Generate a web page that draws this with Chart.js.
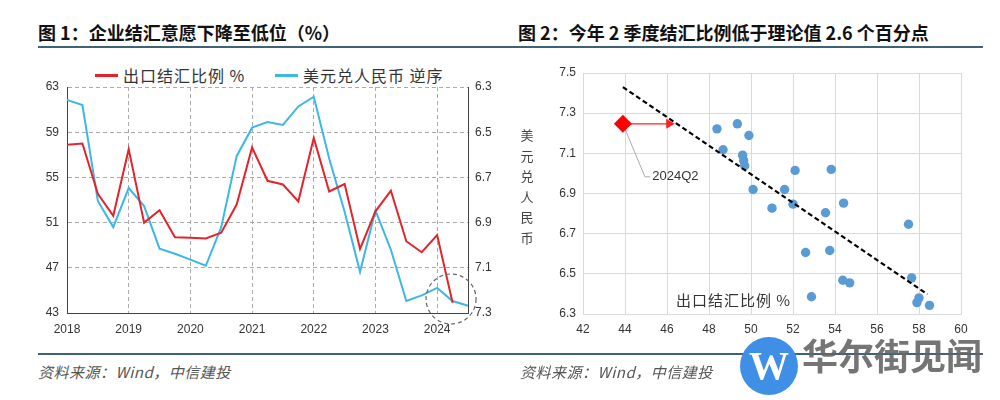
<!DOCTYPE html>
<html>
<head>
<meta charset="utf-8">
<script src="https://cdn.jsdelivr.net/npm/chart.js@4"></script>
<style>
  body { margin: 0; background: #fff; }
  #page { position: relative; width: 1000px; height: 400px; overflow: hidden; font-family: "Noto Sans CJK SC", sans-serif; }
  .abs { position: absolute; white-space: nowrap; }
  .title { font-size: 18px; font-weight: bold; color: #111; top: 20px; line-height: 24px; }
  .rule { height: 2px; background: #3e6276; }
  .foot { font-size: 15px; font-style: italic; color: #555; top: 361px; line-height: 22px; letter-spacing: 0.5px; }
  .leg { font-size: 16px; color: #333; top: 63px; line-height: 24px; letter-spacing: 1px; }
  .legline { height: 3px; top: 74px; width: 23px; }
  canvas { position: absolute; top: 0; }
</style>
</head>
<body>
<div id="page">
  <div class="abs title" style="left:38px">图 1：企业结汇意愿下降至低位（%）</div>
  <div class="abs title" style="left:518px">图 2：今年 2 季度结汇比例低于理论值 2.6 个百分点</div>
  <div class="abs rule" style="left:38px; top:46px; width:945px"></div>
  <div class="abs rule" style="left:38px; top:353px; width:945px"></div>

  <div class="abs legline" style="left:95px; background:#e3242b"></div>
  <div class="abs leg" style="left:123px">出口结汇比例 %</div>
  <div class="abs legline" style="left:275px; background:#3db7e4"></div>
  <div class="abs leg" style="left:303px">美元兑人民币 逆序</div>

  <canvas id="lineChart" width="500" height="345" style="left:0"></canvas>
  <canvas id="scatterChart" width="500" height="345" style="left:500px"></canvas>

  <div class="abs" style="left:518px; top:125px; width:18px; font-size:13px; line-height:20.5px; color:#444; white-space:normal; text-align:center">美<br>元<br>兑<br>人<br>民<br>币</div>
  <div class="abs" style="left:676px; top:289px; font-size:15px; color:#333; letter-spacing:1px; line-height:22px">出口结汇比例 %</div>

  <div class="abs foot" style="left:38px">资料来源：Wind，中信建投</div>
  <div class="abs foot" style="left:520px">资料来源：Wind，中信建投</div>

  <div class="abs" style="left:740px; top:337px; width:58px; height:58px; border-radius:50%; background:#3f8fe6; color:#fff; font:bold 40px 'Liberation Serif', serif; text-align:center; line-height:58px">W</div>
  <div class="abs" style="left:802px; top:334px; font-size:36px; font-weight:bold; color:#666; line-height:40px; opacity:0.9">华尔街见闻</div>
</div>

<script>
// quarterly data, 2018Q1 .. 2024Q3
const quarters = [
  '2018Q1','2018Q2','2018Q3','2018Q4','2019Q1','2019Q2','2019Q3','2019Q4',
  '2020Q1','2020Q2','2020Q3','2020Q4','2021Q1','2021Q2','2021Q3','2021Q4',
  '2022Q1','2022Q2','2022Q3','2022Q4','2023Q1','2023Q2','2023Q3','2023Q4',
  '2024Q1','2024Q2','2024Q3'
];
const exportSettleRatio = [
  57.9, 58.0, 53.55, 51.6, 57.5, 51.0, 52.1, 49.7,
  49.65, 49.6, 50.1, 52.6, 57.65, 54.7, 54.37, 52.88,
  58.5, 53.75, 54.41, 48.67, 52.0, 53.82, 49.35, 48.38,
  49.9, 43.9, null
];
const usdCny = [
  6.357, 6.38, 6.804, 6.92, 6.747, 6.827, 7.015, 7.038,
  7.064, 7.091, 6.92, 6.606, 6.48, 6.455, 6.468, 6.386,
  6.343, 6.616, 6.852, 7.118, 6.847, 7.02, 7.247, 7.222,
  7.189, 7.247, 7.268
];
const leftTicks = [43, 47, 51, 55, 59, 63];
const rightTicks = [6.3, 6.5, 6.7, 6.9, 7.1, 7.3];

// scatter extras
const latestIndex = 25;            // 2024Q2
const trendX = [43.9, 58.4];
const trendY = [7.43, 6.398];
const arrowX = [43.9, 46.1];
const arrowY = [7.247, 7.247];
const leaderX = [43.9, 44.95, 45.2];
const leaderY = [7.247, 6.983, 6.983];
const labelPos = { x: 45.3, y: 6.983, text: '2024Q2' };
const circlePos = { index: 24.9, value: 44.24 };

const tickFont = { family: 'Liberation Sans, Arial, sans-serif', size: 12 };
const tickColor = '#333';

const circlePlugin = {
  id: 'circle',
  afterDatasetsDraw(chart) {
    const { ctx, scales } = chart;
    const cx = scales.x.getPixelForValue(circlePos.index);
    const cy = scales.y.getPixelForValue(circlePos.value);
    ctx.save();
    ctx.strokeStyle = '#666';
    ctx.lineWidth = 1.2;
    ctx.setLineDash([4, 3]);
    ctx.beginPath();
    ctx.arc(cx, cy, 25, 0, Math.PI * 2);
    ctx.stroke();
    ctx.restore();
  }
};

new Chart(document.getElementById('lineChart'), {
  type: 'line',
  data: {
    labels: quarters,
    datasets: [{
      label: '出口结汇比例 %',
      data: exportSettleRatio,
      yAxisID: 'y',
      borderColor: '#e3242b',
      borderWidth: 2,
      pointRadius: 0,
      tension: 0
    }, {
      label: '美元兑人民币 逆序',
      data: usdCny,
      yAxisID: 'y1',
      borderColor: '#3db7e4',
      borderWidth: 2,
      pointRadius: 0,
      tension: 0
    }]
  },
  options: {
    responsive: false,
    animation: false,
    devicePixelRatio: 1,
    layout: { padding: { top: 87, left: 0, right: 0, bottom: 0 } },
    plugins: { legend: { display: false }, tooltip: { enabled: false } },
    scales: {
      x: {
        afterFit: s => { s.height = 32; },
        grid: {
          color: c => (c.index % 4 === 0 ? '#aaa' : 'transparent'),
          drawTicks: false
        },
        border: { display: true, color: '#404040', dash: [4, 3] },
        ticks: {
          autoSkip: false, maxRotation: 0, padding: 9, font: tickFont, color: tickColor,
          callback: function (v) {
            const l = this.getLabelForValue(v);
            return l.endsWith('Q1') ? l.slice(0, 4) : '';
          }
        }
      },
      y: {
        position: 'left',
        min: 43, max: 63,
        afterFit: s => { s.width = 67; },
        afterBuildTicks: s => { s.ticks = leftTicks.map(v => ({ value: v })); },
        grid: { color: '#aaa', drawTicks: false },
        border: { display: true, color: '#404040', dash: [4, 3] },
        ticks: { padding: 8, font: tickFont, color: tickColor }
      },
      y1: {
        position: 'right',
        reverse: true,
        min: 6.3, max: 7.3,
        afterFit: s => { s.width = 32; },
        afterBuildTicks: s => { s.ticks = rightTicks.map(v => ({ value: v })); },
        grid: { display: false, drawTicks: false },
        border: { display: true, color: '#404040' },
        ticks: { padding: 7, font: tickFont, color: tickColor, callback: v => v.toFixed(1) }
      }
    }
  },
  plugins: [circlePlugin]
});

// scatter points built from the quarterly arrays
const pastPoints = [];
for (let i = 0; i < latestIndex; i++) {
  pastPoints.push({ x: exportSettleRatio[i], y: usdCny[i] });
}
const latestPoint = [{ x: exportSettleRatio[latestIndex], y: usdCny[latestIndex] }];

const labelPlugin = {
  id: 'label',
  afterDatasetsDraw(chart) {
    const { ctx, scales } = chart;
    ctx.save();
    ctx.font = '13px Liberation Sans, Arial, sans-serif';
    ctx.fillStyle = '#333';
    ctx.textBaseline = 'middle';
    ctx.fillText(labelPos.text, scales.x.getPixelForValue(labelPos.x), scales.y.getPixelForValue(labelPos.y));
    ctx.restore();
  }
};

new Chart(document.getElementById('scatterChart'), {
  type: 'scatter',
  data: {
    datasets: [{
      data: latestPoint,
      order: 0,
      pointStyle: 'rectRot',
      pointRadius: 9,
      pointBorderWidth: 0,
      backgroundColor: '#ff0000',
      borderColor: '#ff0000'
    }, {
      data: arrowX.map((x, i) => ({ x, y: arrowY[i] })),
      order: 1,
      showLine: true,
      borderWidth: 1.2,
      pointStyle: 'triangle',
      pointRotation: 90,
      pointRadius: [0, 4.5],
      backgroundColor: '#ff2020',
      borderColor: '#ff2020'
    }, {
      data: leaderX.map((x, i) => ({ x, y: leaderY[i] })),
      order: 2,
      showLine: true,
      borderColor: '#aaa',
      borderWidth: 1,
      pointRadius: 0
    }, {
      data: trendX.map((x, i) => ({ x, y: trendY[i] })),
      order: 3,
      showLine: true,
      borderColor: '#000',
      borderWidth: 2.2,
      borderDash: [5, 3],
      pointRadius: 0
    }, {
      data: pastPoints,
      order: 4,
      pointRadius: 4.7,
      pointBorderWidth: 0,
      backgroundColor: '#5b9bd5',
      borderColor: '#5b9bd5'
    }]
  },
  options: {
    responsive: false,
    animation: false,
    devicePixelRatio: 1,
    layout: { padding: { top: 73, left: 0, right: 39, bottom: 0 } },
    plugins: { legend: { display: false }, tooltip: { enabled: false } },
    scales: {
      x: {
        type: 'linear',
        min: 42, max: 60,
        afterFit: s => { s.height = 31; },
        grid: { color: '#d9d9d9', drawTicks: false },
        border: { display: true, color: '#d9d9d9' },
        ticks: { stepSize: 2, padding: 8, font: tickFont, color: tickColor }
      },
      y: {
        min: 6.3, max: 7.5,
        afterFit: s => { s.width = 83; },
        grid: { color: '#d9d9d9', drawTicks: false },
        border: { display: true, color: '#d9d9d9' },
        ticks: { stepSize: 0.2, padding: 7, font: tickFont, color: tickColor, callback: v => v.toFixed(1) }
      }
    }
  },
  plugins: [labelPlugin]
});
</script>
</body>
</html>
